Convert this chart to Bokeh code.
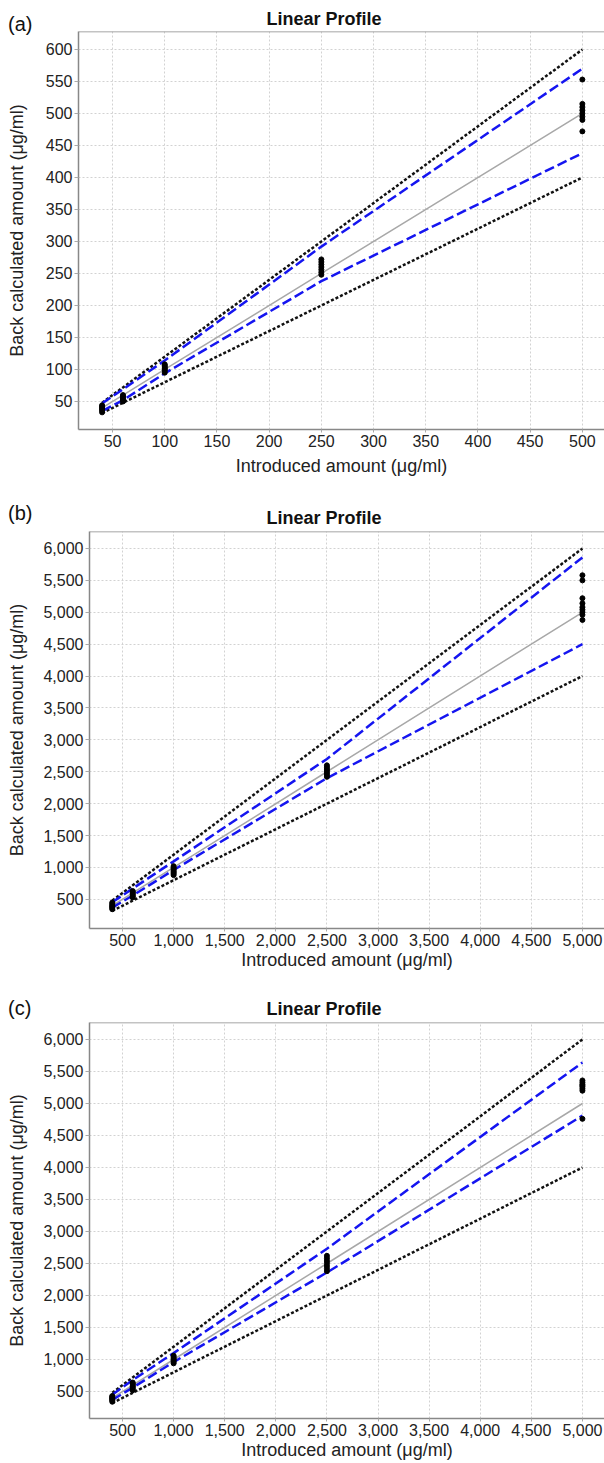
from bokeh.plotting import figure
from bokeh.models import Span, NumeralTickFormatter, FixedTicker, Range1d, Div
from bokeh.layouts import column
from bokeh.embed import file_html
from bokeh.resources import INLINE

FONT = "Liberation Sans"

# ---------------- data ----------------
titles = ["Linear Profile", "Linear Profile", "Linear Profile"]
tags = ["(a)", "(b)", "(c)"]
x_label = "Introduced amount (μg/ml)"
y_label = "Back calculated amount (μg/ml)"

# panel (a)
levels_a = [40, 60, 100, 250, 500]
acc_hi_a = [48, 72, 120, 300, 600]
acc_lo_a = [32, 48, 80, 200, 400]
tol_hi_a = [47, 69, 114, 292, 570]
tol_lo_a = [35, 52, 94, 238, 438]
obs_a_40 = [33, 36, 38, 40, 42, 44]
obs_a_60 = [50, 52, 54, 56, 58, 60]
obs_a_100 = [95, 98, 100, 102, 104, 106, 108]
obs_a_250 = [248, 252, 256, 260, 264, 268, 272]
obs_a_500 = [553, 515, 510, 505, 500, 495, 490, 472]
xticks_a = [50, 100, 150, 200, 250, 300, 350, 400, 450, 500]
yticks_a = [50, 100, 150, 200, 250, 300, 350, 400, 450, 500, 550, 600]

# panel (b)
levels_b = [400, 600, 1000, 2500, 5000]
acc_hi_b = [480, 720, 1200, 3000, 6000]
acc_lo_b = [320, 480, 800, 2000, 4000]
tol_hi_b = [455, 670, 1095, 2700, 5860]
tol_lo_b = [370, 560, 960, 2400, 4500]
obs_b_400 = [345, 365, 380, 395, 410, 430, 450]
obs_b_600 = [530, 550, 570, 590, 610, 630]
obs_b_1000 = [880, 900, 920, 940, 960, 980, 1000, 1020]
obs_b_2500 = [2420, 2450, 2480, 2510, 2540, 2570, 2600]
obs_b_5000 = [5580, 5500, 5220, 5140, 5080, 5040, 5000, 4960, 4880]

# panel (c)
levels_c = [400, 600, 1000, 2500, 5000]
acc_hi_c = [480, 720, 1200, 3000, 6000]
acc_lo_c = [320, 480, 800, 2000, 4000]
tol_hi_c = [450, 680, 1100, 2730, 5640]
tol_lo_c = [370, 560, 960, 2360, 4810]
obs_c_400 = [340, 360, 375, 390, 400, 415, 430]
obs_c_600 = [520, 540, 560, 580, 600, 620, 640]
obs_c_1000 = [940, 960, 980, 1000, 1020, 1040, 1060]
obs_c_2500 = [2380, 2420, 2460, 2500, 2540, 2580, 2620]
obs_c_5000 = [5360, 5330, 5300, 5280, 5260, 5230, 5200, 4760]

xticks_bc = [500, 1000, 1500, 2000, 2500, 3000, 3500, 4000, 4500, 5000]
yticks_bc = [500, 1000, 1500, 2000, 2500, 3000, 3500, 4000, 4500, 5000, 5500, 6000]


def make_panel(title, levels, obs, acc_hi, acc_lo, tol_hi, tol_lo,
               xr, yr, xticks, yticks, comma, height, b_top, b_bottom, b_left,
               title_offset, title_standoff, ylab_standoff,
               xtick_standoff, xlab_standoff):
    p = figure(width=604, height=height, output_backend="svg",
               toolbar_location=None, x_range=Range1d(*xr), y_range=Range1d(*yr),
               min_border_top=b_top, min_border_bottom=b_bottom,
               min_border_left=b_left, min_border_right=0)
    p.frame_align = False
    p.background_fill_color = "white"
    p.border_fill_color = "white"
    p.outline_line_color = None

    p.title.text = title
    p.title.text_font = FONT
    p.title.text_font_size = "18px"
    p.title.text_font_style = "bold"
    p.title.text_color = "#111111"
    p.title.align = "left"
    p.title.offset = title_offset
    p.title.standoff = title_standoff

    for ax in (p.xaxis[0], p.yaxis[0]):
        ax.axis_line_color = "#888888"
        ax.axis_line_width = 1.5
        ax.major_tick_line_color = "#aaaaaa"
        ax.major_tick_in = 0
        ax.minor_tick_line_color = None
        ax.major_label_text_font = FONT
        ax.major_label_text_font_size = "16px"
        ax.major_label_text_color = "#222222"
        ax.axis_label_text_font = FONT
        ax.axis_label_text_font_size = "18px"
        ax.axis_label_text_font_style = "normal"
        ax.axis_label_text_color = "#222222"
        if comma:
            ax.formatter = NumeralTickFormatter(format="0,0")

    p.xaxis.ticker = FixedTicker(ticks=xticks)
    p.yaxis.ticker = FixedTicker(ticks=yticks)
    p.xaxis.major_tick_out = 3
    p.yaxis.major_tick_out = 4
    p.yaxis.major_label_standoff = 2
    p.xaxis.major_label_standoff = xtick_standoff
    p.xaxis.axis_label = x_label
    p.yaxis.axis_label = y_label
    p.yaxis.axis_label_standoff = ylab_standoff
    p.xaxis.axis_label_standoff = xlab_standoff

    for g in (p.xgrid[0], p.ygrid[0]):
        g.grid_line_color = "#d2d2d2"
        g.grid_line_dash = "2 2"
        g.grid_line_width = 1

    p.add_layout(Span(location=yr[1], dimension="width",
                      line_color="#888888", line_width=1.5))

    p.line(levels, levels, line_color="#a8a8a8", line_width=1.5)
    p.line(levels, acc_hi, line_color="#111111", line_width=2.5, line_dash="3 2")
    p.line(levels, acc_lo, line_color="#111111", line_width=2.5, line_dash="3 2")
    p.line(levels, tol_hi, line_color="#1515f0", line_width=2.5, line_dash="10 4")
    p.line(levels, tol_lo, line_color="#1515f0", line_width=2.5, line_dash="10 4")

    xs, ys = [], []
    for lv, vals in zip(levels, obs):
        xs += [lv] * len(vals)
        ys += vals
    p.scatter(xs, ys, size=5, color="black")
    return p


pa = make_panel(titles[0], levels_a,
                [obs_a_40, obs_a_60, obs_a_100, obs_a_250, obs_a_500],
                acc_hi_a, acc_lo_a, tol_hi_a, tol_lo_a,
                (17.4, 521.2), (6.2, 628.1), xticks_a, yticks_a, False,
                500, 31, 71, 78, 188, 5, 16, 2, 6)
pb = make_panel(titles[1], levels_b,
                [obs_b_400, obs_b_600, obs_b_1000, obs_b_2500, obs_b_5000],
                acc_hi_b, acc_lo_b, tol_hi_b, tol_lo_b,
                (177, 5216), (43, 6266), xticks_bc, yticks_bc, True,
                491, 31, 63, 89, 177, 7, 13, 2, 1)
pc = make_panel(titles[2], levels_c,
                [obs_c_400, obs_c_600, obs_c_1000, obs_c_2500, obs_c_5000],
                acc_hi_c, acc_lo_c, tol_hi_c, tol_lo_c,
                (177, 5216), (78, 6265.6), xticks_bc, yticks_bc, True,
                472, 31, 45, 89, 177, 7, 13, 2, 1)

# panel tags (a), (b), (c) laid over the top-left corner of each panel
tag_tops = [14, 503, 998]
tag_divs = [Div(text=(f'<span style="display:block;font-family:\'{FONT}\';'
                      f'font-size:20px;line-height:1;color:#111111;">{t}</span>'),
                margin=0,
                styles={"position": "absolute", "left": "8px", "top": f"{top}px",
                        "z-index": "10"})
            for t, top in zip(tags, tag_tops)]

layout = column(pa, pb, pc, *tag_divs, spacing=0)
open("out.html", "w").write(file_html(layout, INLINE))
